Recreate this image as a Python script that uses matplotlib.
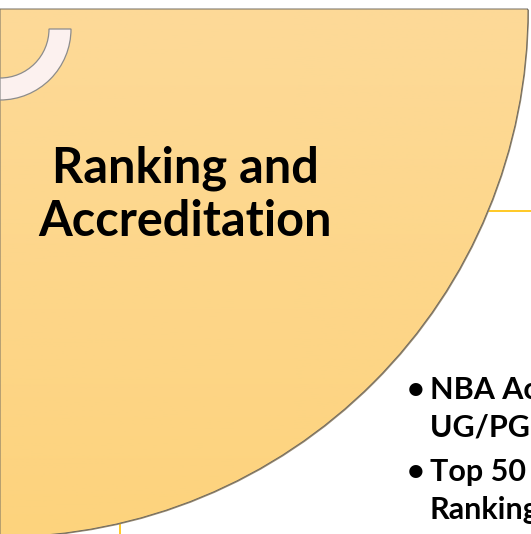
import numpy as np
import matplotlib.pyplot as plt
from matplotlib.patches import Wedge
from matplotlib.colors import LinearSegmentedColormap

# texto de la diapositiva
titulo = ["Ranking and", "Accreditation"]
vinetas = [["NBA Accredited", "UG/PG Programs"], ["Top 50 in NIRF", "Ranking"]]

ANCHO, ALTO = 531, 534

fig = plt.figure(figsize=(ANCHO / 100, ALTO / 100), dpi=100)
ax = fig.add_axes([0, 0, 1, 1])
ax.set_xlim(0, ANCHO)
ax.set_ylim(ALTO, 0)
ax.axis("off")

# lineas amarillas detras de la forma
ax.plot([300, ANCHO], [211, 211], color="#FFC000", lw=1.2, zorder=1)
ax.plot([120, 120], [300, ALTO], color="#FFC000", lw=1.2, zorder=1)

# cuarto de circulo con degradado
centro = (0, 9)
radio = 528
sombra = Wedge((centro[0] + 1, centro[1] + 1), radio, 0, 90, facecolor="#9a8c74", edgecolor="none", zorder=2)
ax.add_patch(sombra)
forma = Wedge(centro, radio, 0, 90, facecolor="none", edgecolor="#6f6a60", lw=0.7, zorder=4)
ax.add_patch(forma)
cmap = LinearSegmentedColormap.from_list("amarillo", ["#FDDA98", "#FDD37D"])
grad = np.linspace(0, 1, 256).reshape(-1, 1)
img = ax.imshow(grad, cmap=cmap, extent=[0, ANCHO, ALTO, 9], aspect="auto", zorder=3)
img.set_clip_path(Wedge(centro, radio, 0, 90, transform=ax.transData))

# arco blanco
arco = Wedge((0, 29), 71, 0, 90, width=22, facecolor="#FCF1EF", edgecolor="#8c8c8c", lw=0.9, zorder=5)
ax.add_patch(arco)

# titulo
ax.text(185, 195, "\n".join(titulo), ha="center", va="center", fontsize=35, fontweight="bold",
        family="Lato", linespacing=1.22, color="black", zorder=6)

# vinetas
y = 390
for item in vinetas:
    ax.text(407, y, "\u2022", ha="left", va="center", fontsize=22, fontweight="bold", family="Lato", zorder=6)
    ax.text(430, y, item[0], ha="left", va="center", fontsize=22, fontweight="bold", family="Lato", zorder=6)
    ax.text(430, y + 38, item[1], ha="left", va="center", fontsize=22, fontweight="bold", family="Lato", zorder=6)
    y += 82

fig.savefig("out.png", dpi=100)
